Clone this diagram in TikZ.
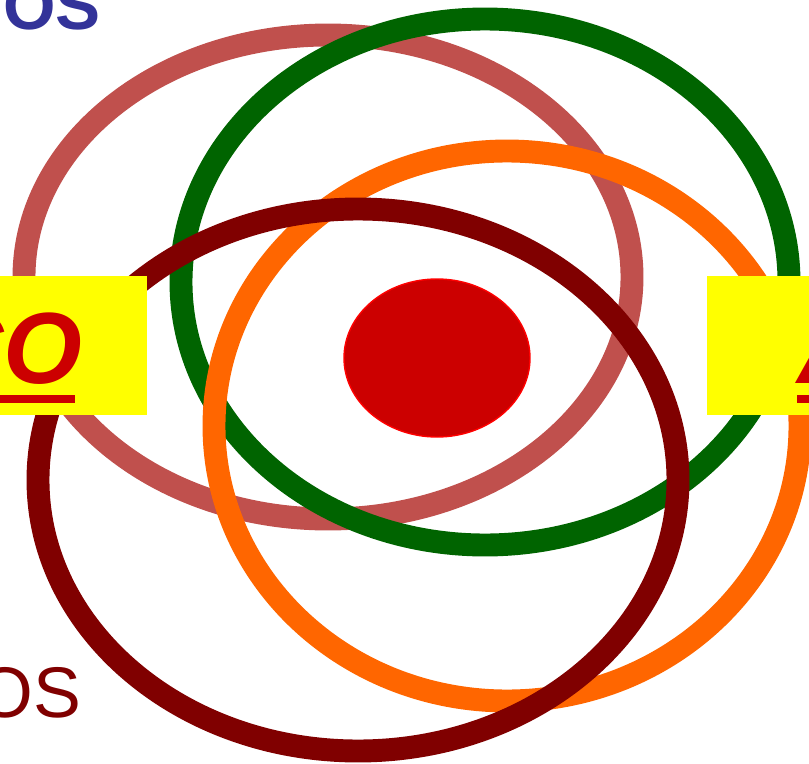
\documentclass[tikz,border=0pt]{standalone}
\usepackage{fontspec}
\setmainfont{Liberation Sans}
\usetikzlibrary{positioning}
\definecolor{rosy}{HTML}{C0504D}
\definecolor{leaf}{HTML}{006400}
\definecolor{tang}{HTML}{FF6600}
\definecolor{maroon}{HTML}{800000}
\definecolor{core}{HTML}{CC0000}
\definecolor{navy}{HTML}{333399}
\definecolor{lemon}{HTML}{FFFF00}
\begin{document}
\begin{tikzpicture}[x=0.025cm,y=0.025cm,ring/.style={line width=16.3pt},
  lbl/.style={inner sep=0pt,outer sep=0pt}]
\useasboundingbox (0,0) rectangle (809,-763);
\clip (0,0) rectangle (809,-763);
\coordinate (c1) at (328,-277);
\coordinate (c2) at (485,-282);
\coordinate (c3) at (507,-426);
\coordinate (c4) at (358,-480);
\coordinate (c0) at (437,-358);
\draw[ring,rosy] (c1) ellipse [x radius=304,y radius=242];
\draw[ring,leaf] (c2) ellipse [x radius=304,y radius=263];
\draw[ring,tang] (c3) ellipse [x radius=293,y radius=275];
\draw[ring,maroon] (c4) ellipse [x radius=320,y radius=271];
\fill[lemon] (0,-276) rectangle (147,-415);
\fill[lemon] (707,-276) rectangle (820,-415);
\filldraw[fill=core,draw=red,line width=1pt] (c0) ellipse [x radius=93,y radius=79];
\node[lbl,anchor=base east,text=core,font=\fontsize{72}{72}\selectfont\bfseries\itshape] (left) at (82,-383) {CO};
\fill[core] ([yshift=-8.5pt]left.base west) rectangle (75,-403);
\node[lbl,anchor=base west,text=core,font=\fontsize{72}{72}\selectfont\bfseries\itshape] (right) at (797,-383) {A};
\fill[core] (797,-395) rectangle ([yshift=-14.2pt]right.base east);
\node[lbl,anchor=base east,text=navy,font=\fontsize{48}{48}\selectfont\bfseries] (top) at (101,-29) {OS};
\node[lbl,anchor=base east,text=maroon,font=\fontsize{51}{51}\selectfont] (bottom) at (81,-717) {OS};
\end{tikzpicture}
\end{document}
